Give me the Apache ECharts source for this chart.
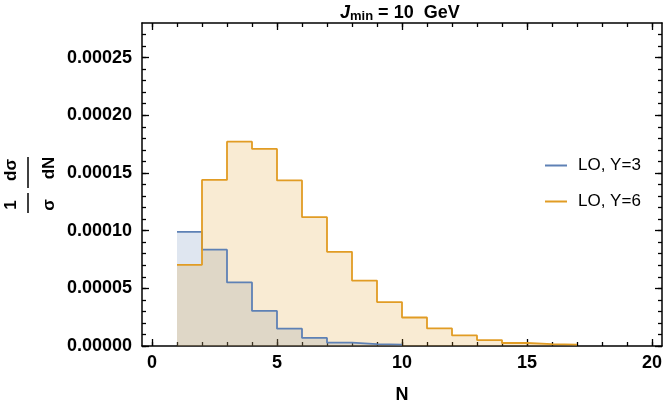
<!DOCTYPE html>
<html>
<head>
<meta charset="utf-8">
<title>N distribution</title>
<script src="https://cdn.jsdelivr.net/npm/echarts@6.0.0/dist/echarts.min.js"></script>
<style>
  html, body { margin: 0; padding: 0; background: #fff; }
  #chart { width: 664px; height: 403px; }
</style>
</head>
<body>
<div id="chart"></div>
<script>
// bin edges in N and bin heights (1/sigma dsigma/dN)
var edgesY3 = [1, 2, 3, 4, 5, 6, 7, 8, 9, 10];
var valuesY3 = [0.0000990, 0.0000835, 0.0000551, 0.0000304, 0.0000150, 0.0000070, 0.0000030, 0.0000016, 0.0000012];
var edgesY6 = [1, 2, 3, 4, 5, 6, 7, 8, 9, 10, 11, 12, 13, 14, 15, 16, 17];
var valuesY6 = [0.0000704, 0.0001440, 0.0001771, 0.0001708, 0.0001435, 0.0001117, 0.0000816, 0.0000567,
  0.0000381, 0.0000247, 0.0000152, 0.0000092, 0.0000051, 0.0000026, 0.0000016, 0.0000012];
var seriesNames = ['LO, Y=3', 'LO, Y=6'];
var seriesColors = ['#5E81B5', '#E19C24'];

var xMajorTicks = [0, 5, 10, 15, 20];
var xMinorTicks = [0, 1, 2, 3, 4, 5, 6, 7, 8, 9, 10, 11, 12, 13, 14, 15, 16, 17, 18, 19, 20];
var yMajorTicks = [0, 0.00005, 0.0001, 0.00015, 0.0002, 0.00025];
var yMinorTicks = [0, 0.00001, 0.00002, 0.00003, 0.00004, 0.00005, 0.00006, 0.00007, 0.00008, 0.00009,
  0.0001, 0.00011, 0.00012, 0.00013, 0.00014, 0.00015, 0.00016, 0.00017, 0.00018, 0.00019,
  0.0002, 0.00021, 0.00022, 0.00023, 0.00024, 0.00025, 0.00026, 0.00027];

var FONT = '"Liberation Sans", Arial, sans-serif';

// histogram as step line: last edge repeats last height
function stepData(edges, values) {
  return edges.map(function (e, i) {
    return [e, values[Math.min(i, values.length - 1)]];
  });
}

// one axis = one side of the frame with one set of ticks
function frameAxis(position, ticks, len, main, labels) {
  var ax = {
    type: 'value',
    position: position,
    axisLine: { show: main, onZero: false, lineStyle: { color: '#000', width: 1.5 } },
    axisTick: { show: true, inside: true, length: len, customValues: ticks, lineStyle: { color: '#000', width: 1.3 } },
    axisLabel: { show: false },
    splitLine: { show: false }
  };
  if (labels) {
    ax.axisLabel = {
      show: true,
      customValues: labels,
      fontFamily: FONT,
      fontWeight: 'bold',
      fontSize: 18,
      color: '#000'
    };
  }
  return ax;
}

var xAxes = [
  frameAxis('bottom', xMajorTicks, 7, true, xMajorTicks),
  frameAxis('bottom', xMinorTicks, 4, false),
  frameAxis('top', xMajorTicks, 7, true),
  frameAxis('top', xMinorTicks, 4, false)
];
xAxes.forEach(function (a) { a.min = -0.4; a.max = 20.4; });
xAxes[0].axisLabel.margin = 8;
xAxes[0].name = 'N';
xAxes[0].nameLocation = 'middle';
xAxes[0].nameGap = 40;
xAxes[0].nameTextStyle = { fontFamily: FONT, fontWeight: 'bold', fontSize: 18, color: '#000' };

var yAxes = [
  frameAxis('left', yMajorTicks, 7, true, yMajorTicks),
  frameAxis('left', yMinorTicks, 4, false),
  frameAxis('right', yMajorTicks, 7, true),
  frameAxis('right', yMinorTicks, 4, false)
];
yAxes.forEach(function (a) { a.min = 0; a.max = 0.00028; });
yAxes[0].axisLabel.margin = 10;
yAxes[0].axisLabel.formatter = function (v) { return v.toFixed(5); };

var chart = echarts.init(document.getElementById('chart'));
chart.setOption({
  animation: false,
  backgroundColor: '#fff',
  title: {
    text: '{j|J}{s|min}{t| = 10  GeV}',
    left: 340,
    top: 3,
    padding: 0,
    textStyle: {
      rich: {
        j: { fontFamily: FONT, fontWeight: 'bold', fontStyle: 'italic', fontSize: 18, color: '#000', lineHeight: 20 },
        s: { fontFamily: FONT, fontWeight: 'bold', fontSize: 13, color: '#000', lineHeight: 12, verticalAlign: 'bottom' },
        t: { fontFamily: FONT, fontWeight: 'bold', fontSize: 18, color: '#000', lineHeight: 20 }
      }
    }
  },
  grid: { left: 142, top: 23, width: 520, height: 323, outerBoundsMode: 'none' },
  legend: {
    data: seriesNames,
    orient: 'vertical',
    left: 545,
    top: 157,
    padding: 0,
    icon: 'rect',
    itemWidth: 22,
    itemHeight: 2,
    itemGap: 19,
    textStyle: { fontFamily: FONT, fontSize: 17, color: '#000', padding: [0, 0, 0, 6] }
  },
  xAxis: xAxes,
  yAxis: yAxes,
  graphic: [
    // y axis title: (1/sigma) (d sigma / dN), rotated
    { type: 'text', x: 11, y: 170, rotation: Math.PI / 2,
      style: { text: 'dσ', font: 'bold 17px ' + FONT, fill: '#000', align: 'center', verticalAlign: 'middle' } },
    { type: 'text', x: 49, y: 168, rotation: Math.PI / 2,
      style: { text: 'dN', font: 'bold 17px ' + FONT, fill: '#000', align: 'center', verticalAlign: 'middle' } },
    { type: 'line', shape: { x1: 28, y1: 157, x2: 28, y2: 188 }, style: { stroke: '#000', lineWidth: 1.5 } },
    { type: 'text', x: 11, y: 205, rotation: Math.PI / 2,
      style: { text: '1', font: 'bold 17px ' + FONT, fill: '#000', align: 'center', verticalAlign: 'middle' } },
    { type: 'text', x: 49, y: 205, rotation: Math.PI / 2,
      style: { text: 'σ', font: 'bold 17px ' + FONT, fill: '#000', align: 'center', verticalAlign: 'middle' } },
    { type: 'line', shape: { x1: 28, y1: 193, x2: 28, y2: 213 }, style: { stroke: '#000', lineWidth: 1.5 } }
  ],
  series: [
    {
      name: seriesNames[0],
      type: 'line',
      step: 'end',
      color: seriesColors[0],
      showSymbol: false,
      data: stepData(edgesY3, valuesY3),
      lineStyle: { color: seriesColors[0], width: 1.8 },
      areaStyle: { color: seriesColors[0], opacity: 0.2 }
    },
    {
      name: seriesNames[1],
      type: 'line',
      step: 'end',
      color: seriesColors[1],
      showSymbol: false,
      data: stepData(edgesY6, valuesY6),
      lineStyle: { color: seriesColors[1], width: 1.8 },
      areaStyle: { color: seriesColors[1], opacity: 0.2 }
    }
  ]
});
</script>
</body>
</html>
